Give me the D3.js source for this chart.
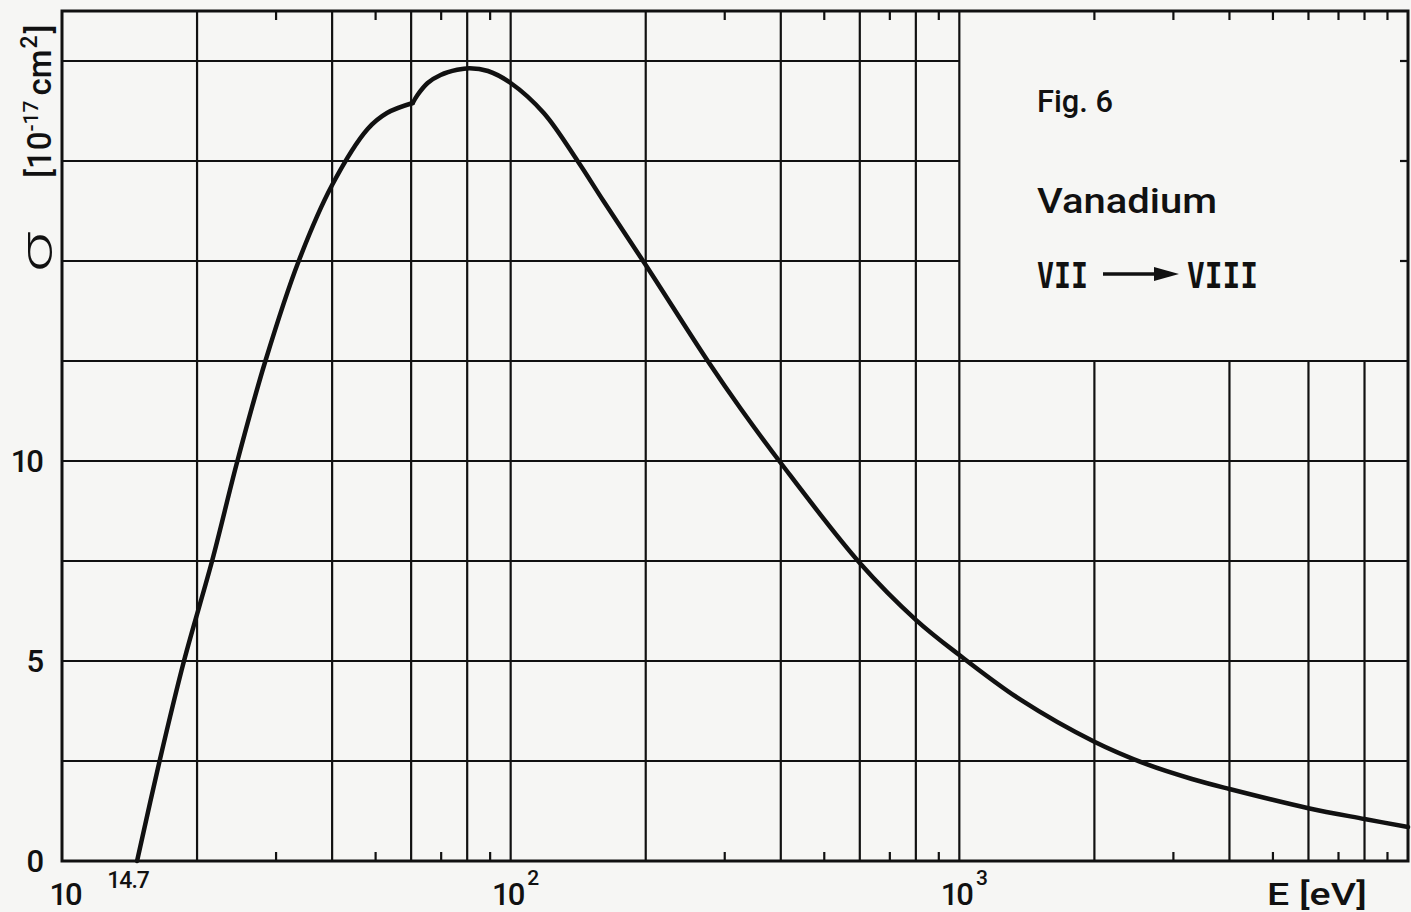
<!DOCTYPE html>
<html>
<head>
<meta charset="utf-8">
<script src="https://cdn.jsdelivr.net/npm/d3@7"></script>
<style>
  html, body { margin: 0; padding: 0; background: #f6f6f4; }
  svg { display: block; }
  text { fill: #111; }
</style>
</head>
<body>
<svg id="chart" width="1411" height="912"></svg>
<script>
// Ionisation cross section of vanadium, V II -> V III (units 1e-17 cm^2)
// Branch from threshold up to the inner-shell onset near 60 eV
const lowEnergy = [14.7, 16.5, 18.7, 21.6, 24.6, 28.4, 33.7, 40, 48, 53, 60.5];
const lowSigma  = [0,    2.5,  5.0,  7.5, 10.0, 12.5, 15.0, 16.9, 18.3, 18.7, 18.95];
// Branch above the onset, out to 10 keV
const highEnergy = [60.5, 62, 65.3, 69.8, 76, 81, 89, 100, 118.5, 141, 161, 200, 275, 326, 400, 600, 800, 1000, 1374, 2000, 2613, 3300, 4000, 6000, 8000, 10000];
const highSigma  = [18.95, 19.15, 19.45, 19.65, 19.78, 19.82, 19.75, 19.45, 18.7, 17.5, 16.5, 14.9, 12.5, 11.3, 9.95, 7.45, 6.03, 5.15, 4.02, 2.98, 2.42, 2.05, 1.8, 1.32, 1.05, 0.85];

const thresholdLabel = "14.7";
const yTickValues = [0, 5, 10];
const yGridValues = [2.5, 5, 7.5, 10, 12.5, 15, 17.5, 20];
const xGridValues = [20, 40, 60, 80, 100, 200, 400, 600, 800, 1000, 2000, 4000, 6000, 8000];
const xMinorValues = [30, 50, 70, 90, 300, 500, 700, 900, 3000, 5000, 7000, 9000];
const xDecadeLabels = [{v: 10, base: "10", exp: ""}, {v: 100, base: "10", exp: "2"}, {v: 1000, base: "10", exp: "3"}];

const svg = d3.select("#chart");
const x = d3.scaleLog().domain([10, 10000]).range([62, 1408]);
const y = d3.scaleLinear().domain([0, 21.25]).range([861, 11]);

const boxE = 1000;      // legend panel spans E >= 1 keV
const boxSigma = 12.5;  // and sigma >= 12.5

const ink = "#111";
const g = svg.append("g");

// grid
const grid = g.append("g").attr("stroke", ink).attr("stroke-width", 2.2);
grid.selectAll("line.v").data(xGridValues).join("line")
  .attr("x1", d => x(d)).attr("x2", d => x(d))
  .attr("y1", y(0))
  .attr("y2", d => d > boxE ? y(boxSigma) : y(21.25));
grid.selectAll("line.h").data(yGridValues).join("line")
  .attr("y1", d => y(d)).attr("y2", d => y(d))
  .attr("x1", x(10))
  .attr("x2", d => d > boxSigma ? x(boxE) : x(10000));

// minor ticks, bottom and top
const ticks = g.append("g").attr("stroke", ink).attr("stroke-width", 2.2);
ticks.selectAll("line.b").data(xMinorValues).join("line")
  .attr("x1", d => x(d)).attr("x2", d => x(d))
  .attr("y1", y(0)).attr("y2", y(0) - 9);
const topTickValues = xMinorValues.filter(d => d < boxE).concat(d3.range(2, 10).map(k => k * 1000));
ticks.selectAll("line.t").data(topTickValues).join("line")
  .attr("x1", d => x(d)).attr("x2", d => x(d))
  .attr("y1", y(21.25)).attr("y2", y(21.25) + 9);
ticks.selectAll("line.r").data(yGridValues.filter(d => d > boxSigma)).join("line")
  .attr("x1", x(10000)).attr("x2", x(10000) - 8)
  .attr("y1", d => y(d)).attr("y2", d => y(d));

// frame
g.append("rect")
  .attr("x", x(10)).attr("y", y(21.25))
  .attr("width", x(10000) - x(10)).attr("height", y(0) - y(21.25))
  .attr("fill", "none").attr("stroke", ink).attr("stroke-width", 3);

// cross-section curve (two branches meeting at the onset kink)
const line = d3.line().x(d => x(d[0])).y(d => y(d[1])).curve(d3.curveCatmullRom.alpha(0.5));
const curve = g.append("g").attr("fill", "none").attr("stroke", ink)
  .attr("stroke-width", 4.5).attr("stroke-linecap", "round").attr("stroke-linejoin", "round");
curve.append("path").attr("d", line(d3.zip(lowEnergy, lowSigma)));
curve.append("path").attr("d", line(d3.zip(highEnergy, highSigma)));

// y tick labels
const labelFont = "Roboto, 'DejaVu Sans', sans-serif";
g.append("g").selectAll("text").data(yTickValues).join("text")
  .attr("x", 42).attr("y", d => y(d) + 11)
  .attr("text-anchor", "end")
  .attr("font-family", labelFont).attr("font-size", 31).attr("font-weight", 500)
  .attr("letter-spacing", -2)
  .text(d => d);

// x decade labels
const xl = g.append("g").attr("font-family", labelFont).attr("font-weight", 500);
xDecadeLabels.forEach(d => {
  const t = xl.append("text")
    .attr("x", x(d.v) + (d.exp ? 4 : 3)).attr("y", 905)
    .attr("font-size", 31).attr("text-anchor", "middle")
    .attr("letter-spacing", -2);
  t.append("tspan").text(d.base);
  if (d.exp) {
    t.append("tspan").attr("dy", -20).attr("font-size", 21).attr("dx", 4).text(d.exp);
  }
});
xl.append("text")
  .attr("x", x(+thresholdLabel) - 9).attr("y", 888)
  .attr("text-anchor", "middle").attr("font-size", 23)
  .attr("letter-spacing", -1)
  .text(thresholdLabel);
xl.append("text")
  .attr("x", 1267).attr("y", 905)
  .attr("font-size", 31)
  .attr("textLength", 100).attr("lengthAdjust", "spacingAndGlyphs")
  .text("E [eV]");

// y axis title, rotated
const yt = g.append("g").attr("font-family", labelFont).attr("font-weight", 500);
yt.append("text")
  .attr("transform", "translate(52,272) rotate(-90)")
  .attr("font-size", 44).attr("font-weight", 300)
  .attr("textLength", 40).attr("lengthAdjust", "spacingAndGlyphs")
  .text("σ");
const unit = yt.append("text")
  .attr("transform", "translate(51,178) rotate(-90)")
  .attr("font-size", 33);
unit.append("tspan").text("[10");
unit.append("tspan").attr("dy", -13).attr("font-size", 21).text("-17");
unit.append("tspan").attr("dy", 13).attr("dx", 5).text("cm");
unit.append("tspan").attr("dy", -14).attr("font-size", 23).attr("dx", 1).text("2");
unit.append("tspan").attr("dy", 14).attr("dx", 2).text("]");

// legend panel text
const legend = g.append("g").attr("font-family", labelFont).attr("font-weight", 500);
legend.append("text")
  .attr("x", 1037).attr("y", 112).attr("font-size", 32)
  .attr("textLength", 76).attr("lengthAdjust", "spacingAndGlyphs")
  .text("Fig. 6");
legend.append("text")
  .attr("x", 1037).attr("y", 213).attr("font-size", 35)
  .attr("textLength", 180).attr("lengthAdjust", "spacingAndGlyphs")
  .text("Vanadium");
const roman = "'DejaVu Sans Mono', monospace";
legend.append("text")
  .attr("x", 1037).attr("y", 288).attr("font-size", 36).attr("font-family", roman)
  .attr("font-weight", "bold")
  .attr("textLength", 51).attr("lengthAdjust", "spacingAndGlyphs")
  .text("VII");
legend.append("text")
  .attr("x", 1187).attr("y", 288).attr("font-size", 36).attr("font-family", roman)
  .attr("font-weight", "bold")
  .attr("textLength", 71).attr("lengthAdjust", "spacingAndGlyphs")
  .text("VIII");
legend.append("line")
  .attr("x1", 1103).attr("x2", 1160).attr("y1", 274).attr("y2", 274)
  .attr("stroke", ink).attr("stroke-width", 3.5);
legend.append("path")
  .attr("d", "M1154,267 L1179,274 L1154,281 Z")
  .attr("fill", ink);
</script>
</body>
</html>
